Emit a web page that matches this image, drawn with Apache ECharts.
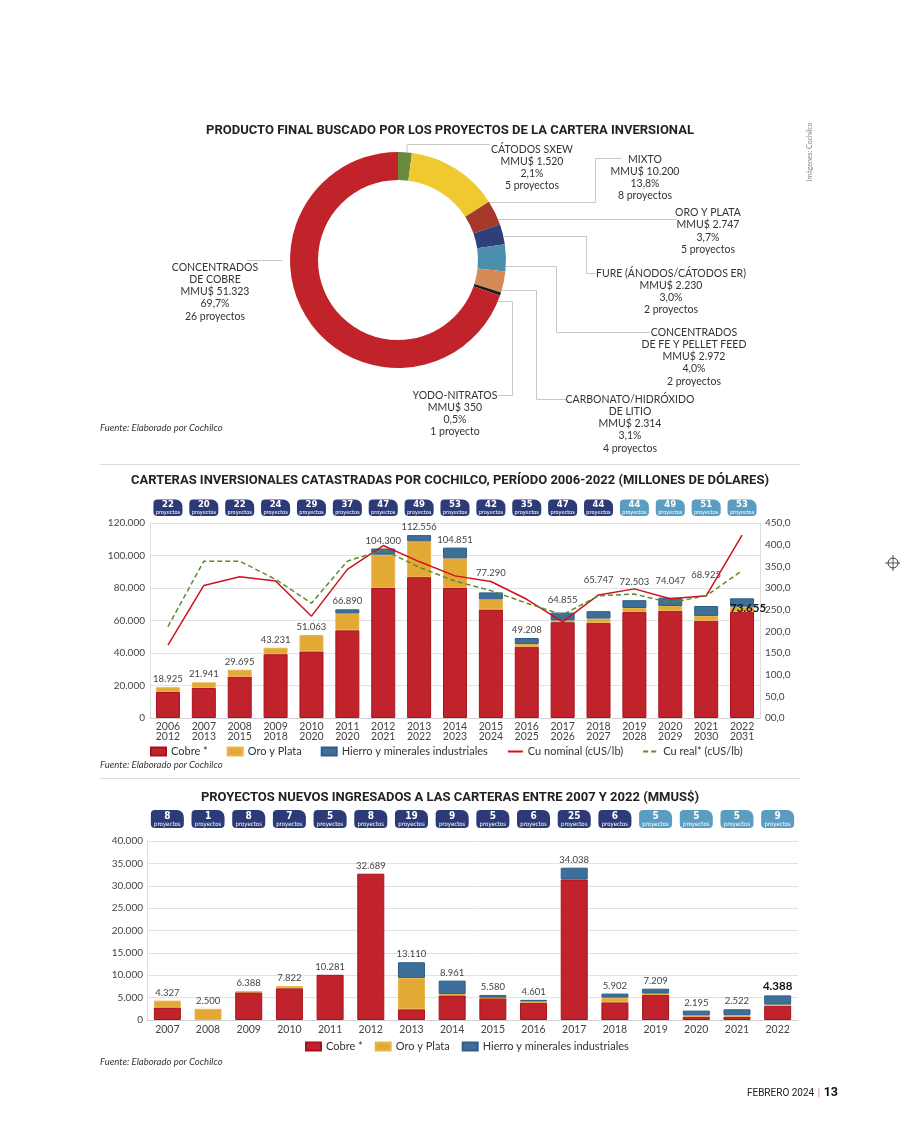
<!DOCTYPE html>
<html><head><meta charset="utf-8">
<script src="https://cdn.jsdelivr.net/npm/echarts@6/dist/echarts.min.js"></script>
<style>html,body{margin:0;padding:0;background:#fff}#c{width:900px;height:1136px}</style>
</head><body><div id="c"></div>
<script>
// ---------- DATA ----------
// Donut (clockwise from top)
const donutNames = ['CÁTODOS SXEW', 'MIXTO', 'ORO Y PLATA', 'FURE (ÁNODOS/CÁTODOS ER)', 'CONCENTRADOS\nDE FE Y PELLET FEED', 'CARBONATO/HIDRÓXIDO\nDE LITIO', 'YODO-NITRATOS', 'CONCENTRADOS\nDE COBRE'];
const donutValues = [1520, 10200, 2747, 2230, 2972, 2314, 350, 51323];
const donutPct = ['2,1%', '13,8%', '3,7%', '3,0%', '4,0%', '3,1%', '0,5%', '69,7%'];
const donutProjects = [5, 8, 5, 2, 2, 4, 1, 26];

// Carteras 2006-2022
const cartYears1 = ['2006','2007','2008','2009','2010','2011','2012','2013','2014','2015','2016','2017','2018','2019','2020','2021','2022'];
const cartYears2 = ['2012','2013','2015','2018','2020','2020','2021','2022','2023','2024','2025','2026','2027','2028','2029','2030','2031'];
const cartProjects = [22,20,22,24,29,37,47,49,53,42,35,47,44,44,49,51,53];
const cartCobre = [16000,18500,25500,39300,41000,54000,80000,86700,80000,66800,43900,59000,58600,65200,66000,59900,65400];
const cartOro = [2925,3441,4195,3931,10063,10300,20500,22000,18200,6200,1600,1000,2600,2500,2900,2900,3100];
const cartHierro = [0,0,0,0,0,2590,3800,3856,6651,4290,3708,4855,4547,4803,5147,6125,5155];
const cartTotals = [18925,21941,29695,43231,51063,66890,104300,112556,104851,77290,49208,64855,65747,72503,74047,68925,73655];
const cuNominal = [168,306,326,316,235,343,398,361,328,315,274,222,284,298,275,282,422];
const cuReal = [211,362,362,320,265,362,388,348,316,294,265,238,282,286,266,282,340];
const cartLeftTicks = ['0','20.000','40.000','60.000','80.000','100.000','120.000'];
const cartRightTicks = ['00,0','50,0','100,0','150,0','200,0','250,0','300,0','350,0','400,0','450,0'];

// Proyectos nuevos 2007-2022
const newYears = ['2007','2008','2009','2010','2011','2012','2013','2014','2015','2016','2017','2018','2019','2020','2021','2022'];
const newProjects = [8,1,8,7,5,8,19,9,5,6,25,6,5,5,5,9];
const newCobre = [2800,0,6200,7100,10100,32689,2400,5500,4900,3900,31400,3950,5600,750,750,3200];
const newOro = [1527,2500,188,500,0,0,7000,300,100,250,0,1050,300,300,350,250];
const newHierro = [0,0,0,0,0,0,3500,3000,600,350,2638,900,1100,1050,1300,2050];
const newTotals = [4327,2500,6388,7822,10281,32689,13110,8961,5580,4601,34038,5902,7209,2195,2522,4388];
const newTicks = ['0','5.000','10.000','15.000','20.000','25.000','30.000','35.000','40.000'];

// ---------- STYLE ----------
const F = 'Lato, "Open Sans", sans-serif';
const FC = '"Liberation Sans Narrow", "Arial Narrow", "DejaVu Sans Condensed", Roboto, sans-serif';
const FT = 'Roboto, "Noto Sans", sans-serif';
const RED = '#c1232d', GOLD = '#e3a935', BLUE = '#3e6f98';
const donutColors = ['#6a8a3e', '#f0c930', '#a3382b', '#2e3f7a', '#4c8fac', '#d48a55', '#1a1a1a', '#c1232b'];
const donutTextPos = [[532,143],[645,153],[708,206.5],[671,267],[694,326],[630,393],[455,389],[215,261]];
const donutLeaders = [
  [[407,152],[407,144.5],[490,144.5]],
  [[489,202.5],[595.5,202.5],[595.5,158.5],[622,158.5]],
  [[498,219.5],[677,219.5]],
  [[504,236.5],[586.5,236.5],[586.5,273.5],[596,273.5]],
  [[506,266.5],[556.5,266.5],[556.5,332.5],[650,332.5]],
  [[501,290.5],[536.5,290.5],[536.5,399.5],[566,399.5]],
  [[497,301.5],[512.5,301.5],[512.5,395.5],[498,395.5]],
  [[282,260.5],[247,260.5]]
];
const cartLabelLift = [0,0,0,0,0,0,0,0,0,11,0,5,23,10,9,23,0];
const cartLightFrom = 13, newLightFrom = 12;

const fmt = v => String(v).replace(/\B(?=(\d{3})+(?!\d))/g, '.');
const nz = arr => arr.map(v => v === 0 ? '-' : v);

function badgeRich(w, nSize, nH, pSize, pH) {
  const mk = (bg) => ({
    n: {fontFamily: FC, fontWeight: 'bold', fontSize: nSize, color: '#fff', backgroundColor: bg, width: w, height: nH, lineHeight: nH, align: 'center', borderRadius: [4, 7, 0, 0], padding: [1, 0, 0, 0]},
    p: {fontFamily: FC, fontSize: pSize, color: '#fff', backgroundColor: bg, width: w, height: pH, lineHeight: pH, align: 'center', borderRadius: [0, 0, 4, 4]}
  });
  const d = mk('#2c3b78'), l = mk('#5b9dc1');
  return {dn: d.n, dp: d.p, ln: l.n, lp: l.p};
}
const badge = (n, light) => light ? `{ln|${n}}\n{lp|proyectos}` : `{dn|${n}}\n{dp|proyectos}`;

const axisLab = {fontSize: 10, color: '#444', fontFamily: F};
const barStyle = (c, b) => ({color: c, borderColor: b, borderWidth: 1});
const hiddenSym = {color: 'rgba(0,0,0,0)', borderColor: 'rgba(0,0,0,0)', borderWidth: 0, opacity: 0};

// ---------- GRAPHICS (text annotations) ----------
const graphics = [];
donutNames.forEach((n, i) => {
  const p = donutProjects[i];
  graphics.push({type: 'text', x: donutTextPos[i][0], y: donutTextPos[i][1], silent: true,
    style: {text: `${n}\nMMU$ ${fmt(donutValues[i])}\n${donutPct[i]}\n${p} proyecto${p === 1 ? '' : 's'}`,
      align: 'center', verticalAlign: 'top', fontSize: 10.5, fontFamily: F, fill: '#333', lineHeight: 12.3}});
  graphics.push({type: 'polyline', silent: true, shape: {points: donutLeaders[i]}, style: {stroke: '#c8c8c8', lineWidth: 1, fill: null}});
});
[428, 765, 1062].forEach(y => graphics.push({type: 'text', x: 100, y: y, silent: true,
  style: {text: 'Fuente: Elaborado por Cochilco', fontStyle: 'italic', fontSize: 9.5, fontFamily: F, fill: '#333', verticalAlign: 'middle'}}));
[464.5, 778.5].forEach(y => graphics.push({type: 'line', silent: true, shape: {x1: 100, y1: y, x2: 800, y2: y}, style: {stroke: '#dcdcdc', lineWidth: 1}}));
graphics.push({type: 'text', x: 810, y: 152, rotation: Math.PI / 2, silent: true,
  style: {text: 'Imágenes: Cochilco', align: 'center', verticalAlign: 'middle', fontSize: 7, fontFamily: F, fill: '#888'}});
graphics.push({type: 'text', x: 838, y: 1093, silent: true,
  style: {text: '{a|FEBRERO 2024} {s||} {b|13}', align: 'right', verticalAlign: 'middle',
    rich: {a: {fontFamily: FT, fontSize: 10, fill: '#222'}, s: {fontFamily: FT, fontSize: 11, fill: '#e29aa4', fontWeight: 'bold'}, b: {fontFamily: FT, fontSize: 12.5, fontWeight: 'bold', fill: '#111'}}}});
graphics.push({type: 'group', x: 893, y: 563, silent: true, children: [
  {type: 'circle', shape: {cx: 0, cy: 0, r: 5}, style: {stroke: '#333', fill: null, lineWidth: 1}},
  {type: 'line', shape: {x1: -8, y1: 0, x2: 8, y2: 0}, style: {stroke: '#333', lineWidth: 0.8}},
  {type: 'line', shape: {x1: 0, y1: -8, x2: 0, y2: 8}, style: {stroke: '#333', lineWidth: 0.8}}
]});

// ---------- OPTION ----------
const titleStyle = {fontFamily: FT, fontWeight: 'bold', fontSize: 13, color: '#222'};
const option = {
  backgroundColor: '#fff',
  animation: false,
  title: [
    {text: 'PRODUCTO FINAL BUSCADO POR LOS PROYECTOS DE LA CARTERA INVERSIONAL', left: 'center', top: 119, textStyle: titleStyle},
    {text: 'CARTERAS INVERSIONALES CATASTRADAS POR COCHILCO, PERÍODO 2006-2022 (MILLONES DE DÓLARES)', left: 'center', top: 469, textStyle: titleStyle},
    {text: 'PROYECTOS NUEVOS INGRESADOS A LAS CARTERAS ENTRE 2007 Y 2022 (MMUS$)', left: 'center', top: 786, textStyle: titleStyle}
  ],
  legend: [
    {left: 150, top: 746, padding: 0, itemWidth: 15, itemHeight: 8, itemGap: 19, textStyle: {fontSize: 11, fontFamily: F, color: '#333'},
      data: [{name: 'Cobre *', icon: 'rect'}, {name: 'Oro y Plata', icon: 'rect'}, {name: 'Hierro y minerales industriales', icon: 'rect'},
        {name: 'Cu nominal (cUS/lb)', itemStyle: hiddenSym}, {name: 'Cu real* (cUS/lb)', itemStyle: hiddenSym}]},
    {left: 305, top: 1041, padding: 0, itemWidth: 15, itemHeight: 8, itemGap: 12, textStyle: {fontSize: 11, fontFamily: F, color: '#333'},
      data: [{name: 'Cobre *', icon: 'rect'}, {name: 'Oro y Plata', icon: 'rect'}, {name: 'Hierro y minerales industriales', icon: 'rect'}]}
  ],
  grid: [
    {left: 150, top: 523, width: 610, height: 195, outerBoundsMode: 'none', containLabel: false},
    {left: 147, top: 841, width: 651, height: 179, outerBoundsMode: 'none', containLabel: false}
  ],
  xAxis: [
    {gridIndex: 0, type: 'category', data: cartYears1, axisLine: {lineStyle: {color: '#d0d0d0'}}, axisTick: {show: false}, splitLine: {show: false},
      axisLabel: {interval: 0, margin: 3, fontSize: 10.5, lineHeight: 10.5, color: '#444', fontFamily: F, formatter: (v, i) => cartYears1[i] + '\n' + cartYears2[i]}},
    {gridIndex: 0, type: 'category', position: 'top', data: cartYears1, axisLine: {show: false}, axisTick: {show: false}, splitLine: {show: false},
      axisLabel: {interval: 0, margin: 7, formatter: (v, i) => badge(cartProjects[i], i >= cartLightFrom), rich: badgeRich(29, 9.5, 9, 5.5, 7)}},
    {gridIndex: 1, type: 'category', data: newYears, axisLine: {lineStyle: {color: '#d0d0d0'}}, axisTick: {show: false}, splitLine: {show: false},
      axisLabel: {interval: 0, margin: 4, fontSize: 10.5, color: '#444', fontFamily: F}},
    {gridIndex: 1, type: 'category', position: 'top', data: newYears, axisLine: {show: false}, axisTick: {show: false}, splitLine: {show: false},
      axisLabel: {interval: 0, margin: 13, formatter: (v, i) => badge(newProjects[i], i >= newLightFrom), rich: badgeRich(33, 10, 10, 6, 7.5)}}
  ],
  yAxis: [
    {gridIndex: 0, type: 'value', min: 0, max: 120000, interval: 20000, axisLine: {show: true, lineStyle: {color: '#dcdcdc'}}, axisTick: {show: false},
      splitLine: {lineStyle: {color: '#e2e2e2'}}, axisLabel: Object.assign({margin: 5, formatter: v => cartLeftTicks[Math.round(v / 20000)]}, axisLab)},
    {gridIndex: 0, type: 'value', position: 'right', min: 0, max: 450, interval: 50, axisLine: {show: true, lineStyle: {color: '#dcdcdc'}}, axisTick: {show: false},
      splitLine: {show: false}, axisLabel: Object.assign({margin: 5, formatter: v => cartRightTicks[Math.round(v / 50)]}, axisLab)},
    {gridIndex: 1, type: 'value', min: 0, max: 40000, interval: 5000, axisLine: {show: true, lineStyle: {color: '#dcdcdc'}}, axisTick: {show: false},
      splitLine: {lineStyle: {color: '#e2e2e2'}}, axisLabel: Object.assign({margin: 4, formatter: v => newTicks[Math.round(v / 5000)]}, axisLab)}
  ],
  series: [
    {name: 'Cobre *', type: 'bar', xAxisIndex: 0, yAxisIndex: 0, stack: 'c', barWidth: 24, data: nz(cartCobre), itemStyle: barStyle(RED, '#a8121d')},
    {name: 'Oro y Plata', type: 'bar', xAxisIndex: 0, yAxisIndex: 0, stack: 'c', barWidth: 24, data: nz(cartOro), itemStyle: barStyle(GOLD, '#eab54a')},
    {name: 'Hierro y minerales industriales', type: 'bar', xAxisIndex: 0, yAxisIndex: 0, stack: 'c', barWidth: 24, data: nz(cartHierro), itemStyle: barStyle(BLUE, '#2f5f8a')},
    {name: 'totC', type: 'bar', xAxisIndex: 0, yAxisIndex: 0, stack: 'c', barWidth: 24, silent: true, itemStyle: {color: 'transparent'},
      data: cartTotals.map((t, i) => i === cartTotals.length - 1
        ? {value: 0, label: {fontWeight: 'bold', fontSize: 11.5, color: '#111', offset: [6, 19]}}
        : {value: 0, label: {offset: [0, -cartLabelLift[i]]}}),
      label: {show: true, position: 'top', distance: 3, fontSize: 9.5, color: '#444', fontFamily: F, formatter: p => fmt(cartTotals[p.dataIndex])}},
    {name: 'Cu nominal (cUS/lb)', type: 'line', xAxisIndex: 0, yAxisIndex: 1, data: cuNominal, symbol: 'none', z: 5,
      lineStyle: {color: '#d0111b', width: 1.5}, itemStyle: {color: '#d0111b'}},
    {name: 'Cu real* (cUS/lb)', type: 'line', xAxisIndex: 0, yAxisIndex: 1, data: cuReal, symbol: 'none', z: 5,
      lineStyle: {color: '#5b8c32', width: 1.5, type: [5, 3]}, itemStyle: {color: '#5b8c32'}},

    {name: 'Cobre *', type: 'bar', xAxisIndex: 2, yAxisIndex: 2, stack: 'n', barWidth: 27, data: nz(newCobre), itemStyle: barStyle(RED, '#a8121d')},
    {name: 'Oro y Plata', type: 'bar', xAxisIndex: 2, yAxisIndex: 2, stack: 'n', barWidth: 27, data: nz(newOro), itemStyle: barStyle(GOLD, '#eab54a')},
    {name: 'Hierro y minerales industriales', type: 'bar', xAxisIndex: 2, yAxisIndex: 2, stack: 'n', barWidth: 27, data: nz(newHierro), itemStyle: barStyle(BLUE, '#2f5f8a')},
    {name: 'totN', type: 'bar', xAxisIndex: 2, yAxisIndex: 2, stack: 'n', barWidth: 27, silent: true, itemStyle: {color: 'transparent'},
      data: newTotals.map((t, i) => i === newTotals.length - 1
        ? {value: 0, label: {fontWeight: 'bold', fontSize: 11.5, color: '#111'}}
        : {value: 0}),
      label: {show: true, position: 'top', distance: 3, fontSize: 9.5, color: '#444', fontFamily: F, formatter: p => fmt(newTotals[p.dataIndex])}},

    {name: 'donut', type: 'pie', center: [398, 260], radius: [80, 108], startAngle: 90, clockwise: true, silent: true,
      label: {show: false}, labelLine: {show: false}, itemStyle: {borderWidth: 0},
      data: donutNames.map((n, i) => ({name: n, value: donutValues[i], itemStyle: {color: donutColors[i]}}))}
  ],
  graphic: {elements: graphics}
};
const chart = echarts.init(document.getElementById('c'), null, {width: 900, height: 1136});
chart.setOption(option);
</script></body></html>
